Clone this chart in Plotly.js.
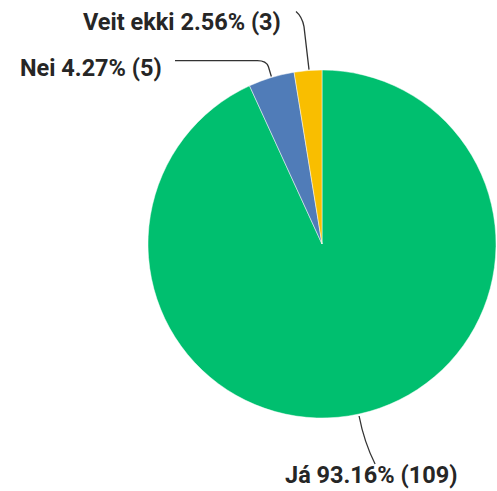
<!DOCTYPE html>
<html>
<head>
<meta charset="utf-8">
<script src="https://cdn.plot.ly/plotly-3.0.1.min.js"></script>
<style>html,body{margin:0;padding:0;background:#fff;}#chart{width:497px;height:491px;}</style>
</head>
<body>
<div id="chart"></div>
<script>
const labels = ["Já", "Nei", "Veit ekki"];
const counts = [109, 5, 3];
const percents = ["93.16%", "4.27%", "2.56%"];
const colors = ["#00BF6F", "#507CB8", "#F9BE00"];

const W = 497, H = 491;
const cx = 322, cy = 244, r = 174;
const total = counts.reduce((a, b) => a + b, 0);
const px = x => x / W;
const py = y => 1 - y / H;

// mid angles (clockwise from 12 o'clock)
let acc = 0;
const mids = counts.map(c => { const m = (acc + c / 2) / total * 2 * Math.PI; acc += c; return m; });
const edge = i => [cx + r * Math.sin(mids[i]), cy - r * Math.cos(mids[i])];

const e0 = edge(0), e1 = edge(1), e2 = edge(2);
const P = (x, y) => px(x) + "," + py(y);
const lineStyle = {color: "#333", width: 1.3};
const shapes = [
  {type: "path", xref: "paper", yref: "paper", line: lineStyle,
   path: "M" + P(e0[0], e0[1] + 2) + " Q" + P(e0[0] + 5, e0[1] + 28) + " " + P(e0[0] + 16, e0[1] + 50)},
  {type: "path", xref: "paper", yref: "paper", line: lineStyle,
   path: "M" + P(e1[0], e1[1] - 1) + " L" + P(e1[0] - 3, e1[1] - 11) + " Q" + P(e1[0] - 5, e1[1] - 17) + " " + P(e1[0] - 14, e1[1] - 17) + " L" + P(175, e1[1] - 17)},
  {type: "path", xref: "paper", yref: "paper", line: lineStyle,
   path: "M" + P(e2[0] + 1, e2[1] - 1) + " L" + P(e2[0] - 4, e2[1] - 44) + " Q" + P(e2[0] - 6, e2[1] - 54) + " " + P(e2[0] - 12, e2[1] - 59)}
];

const fontLab = {family: "Roboto, 'Liberation Sans', sans-serif", size: 23.5, color: "#262626"};
const annText = i => "<b>" + labels[i] + " " + percents[i] + " (" + counts[i] + ")</b>";
const annotations = [
  {text: annText(2), x: px(182), y: py(22), xref: "paper", yref: "paper", showarrow: false, font: fontLab, xanchor: "center", yanchor: "middle"},
  {text: annText(1), x: px(91), y: py(68), xref: "paper", yref: "paper", showarrow: false, font: fontLab, xanchor: "center", yanchor: "middle"},
  {text: annText(0), x: px(371), y: 0, xref: "paper", yref: "paper", showarrow: false, font: fontLab, xanchor: "center", yanchor: "bottom"}
];

const trace = {
  type: "pie",
  labels: labels,
  values: counts,
  sort: false,
  direction: "clockwise",
  rotation: 0,
  textinfo: "none",
  hoverinfo: "none",
  marker: {colors: colors, line: {color: "rgba(255,255,255,0.6)", width: 0.8}},
  domain: {x: [px(cx - r), px(cx + r)], y: [py(cy + r), py(cy - r)]},
  showlegend: false
};

Plotly.newPlot("chart", [trace], {
  width: W, height: H,
  margin: {l: 0, r: 0, t: 0, b: 0},
  paper_bgcolor: "#fff",
  showlegend: false,
  shapes: shapes,
  annotations: annotations
}, {displayModeBar: false, staticPlot: true});
</script>
</body>
</html>
